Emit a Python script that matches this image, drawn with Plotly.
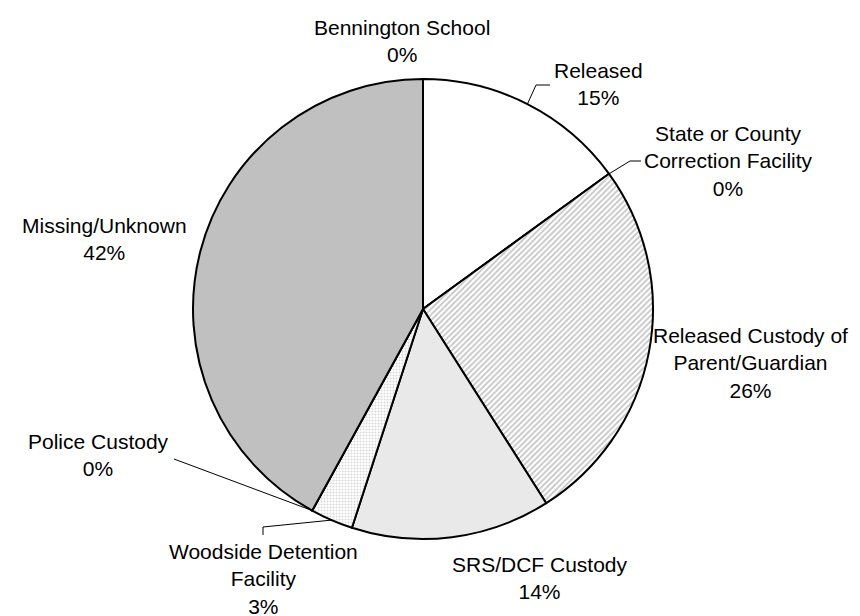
import math
import plotly.graph_objects as go

W, H = 860, 616

# ---- data ----
categories = ["Released", "State or County<br>Correction Facility", "Released Custody of<br>Parent/Guardian",
              "SRS/DCF Custody", "Woodside Detention<br>Facility", "Police Custody",
              "Missing/Unknown", "Bennington School"]
values = [15, 0, 26, 14, 3, 0, 42, 0]
pct_labels = ["15%", "0%", "26%", "14%", "3%", "0%", "42%", "0%"]

# ---- style ----
fills = ["#ffffff", "#ffffff", "#ffffff", "#ffffff", "#ffffff", "#ffffff", "#c0c0c0", "#c0c0c0"]
pat_shapes = ["", "", "/", ".", ".", "", "", ""]
pat_fg = ["#ffffff", "#ffffff", "#8a8a8a", "#9a9a9a", "#b0b0b0", "#ffffff", "#c0c0c0", "#c0c0c0"]
pat_size = [4, 4, 4, 2, 3, 4, 4, 4]
pat_sol = [0.3, 0.3, 0.45, 0.5, 0.35, 0.3, 0.3, 0.3]

CX, CY, R = 415, 301, 230
# label centre positions in px (x, y of block centre)
label_pos = [(590, 76), (720, 153), (742, 355), (532, 570), (255, 571), (90, 447), (96, 231), (394, 33)]
# leader-line elbow/end points (px)
leaders = {0: [(528, 77), (542, 77)], 1: [(622, 153), (633, 153)],
           4: [(255, 519), (255, 527)], 5: [(166, 451)]}

fig = go.Figure(go.Pie(
    labels=[c.replace("<br>", " ") for c in categories],
    values=values,
    sort=False,
    direction="clockwise",
    rotation=0,
    textinfo="none",
    marker=dict(colors=fills,
                line=dict(color="black", width=2),
                pattern=dict(shape=pat_shapes, fgcolor=pat_fg, bgcolor=fills,
                             size=pat_size, solidity=pat_sol, fillmode="overlay")),
    domain=dict(x=[(CX - R) / W, (CX + R) / W], y=[(H - CY - R) / H, (H - CY + R) / H]),
    showlegend=False,
))

def px(x, y):
    return x / W, 1 - y / H

annotations = []
for i, (c, p) in enumerate(zip(categories, pct_labels)):
    x, y = px(*label_pos[i])
    annotations.append(dict(x=x, y=y, xref="paper", yref="paper", text=f"{c}<br>{p}",
                            showarrow=False, xanchor="center", yanchor="middle", align="center",
                            font=dict(family="Arial, Liberation Sans, sans-serif", size=21, color="black")))

shapes = []
total = sum(values)
cum = 0
for i, v in enumerate(values):
    mid = (cum + v / 2) / total * 2 * math.pi
    cum += v
    if i in leaders:
        ex = CX + R * math.sin(mid)
        ey = CY - R * math.cos(mid)
        pts = [(ex, ey)] + leaders[i]
        path = "M " + " L ".join(f"{a / W},{1 - b / H}" for a, b in pts)
        shapes.append(dict(type="path", path=path, xref="paper", yref="paper",
                           line=dict(color="black", width=1)))

fig.update_layout(width=W, height=H, margin=dict(l=0, r=0, t=0, b=0),
                  paper_bgcolor="white", plot_bgcolor="white",
                  annotations=annotations, shapes=shapes)
fig.write_html("out.html")
